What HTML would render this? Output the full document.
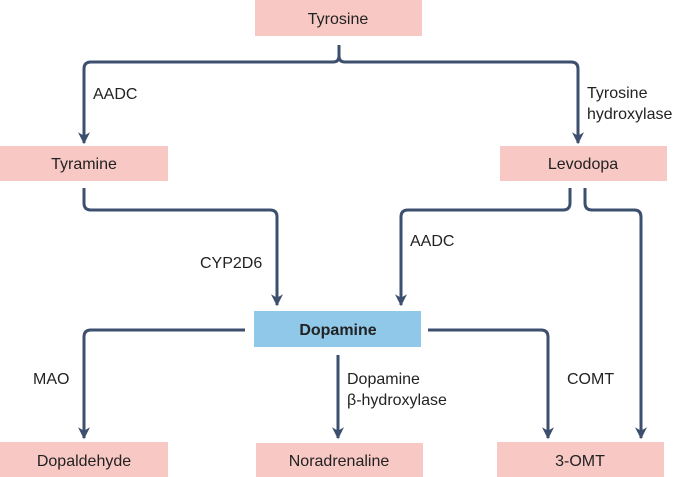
<!DOCTYPE html>
<html><head><meta charset="utf-8"><style>
body{margin:0;width:685px;height:477px;background:#fff;overflow:hidden}
svg{display:block}
text{font-family:"Liberation Sans",sans-serif;font-size:16px;fill:#222}
</style></head><body>
<svg width="685" height="477" viewBox="0 0 685 477">
<defs><marker id="a" viewBox="0 0 10 10" refX="9" refY="5" markerWidth="13" markerHeight="12" markerUnits="userSpaceOnUse" orient="auto"><path d="M0,0 L10,5 L0,10 L3,5 Z" fill="#3d4f6e"/></marker></defs>
<g fill="#f8c8c4">
<rect x="255" y="0" width="167" height="36"/>
<rect x="0" y="146" width="168" height="35"/>
<rect x="500" y="146" width="167" height="35"/>
<rect x="0" y="442" width="168" height="35"/>
<rect x="256" y="443" width="167" height="34"/>
<rect x="497" y="442" width="167" height="35"/>
</g>
<rect x="254" y="311" width="167" height="36" fill="#8fc8e8"/>
<g fill="none" stroke="#3d4f6e" stroke-width="3" stroke-linejoin="round">
<path d="M339,45 V56 Q339,62 333,62 H91 Q84,62 84,69 V143" marker-end="url(#a)"/>
<path d="M339,56 Q339,62 345,62 H571 Q578,62 578,69 V143" marker-end="url(#a)"/>
<path d="M84,188 V203 Q84,210 91,210 H270 Q277,210 277,217 V305" marker-end="url(#a)"/>
<path d="M570,188 V203 Q570,210 563,210 H408 Q401,210 401,217 V305" marker-end="url(#a)"/>
<path d="M585,188 V203 Q585,210 592,210 H634 Q641,210 641,217 V438" marker-end="url(#a)"/>
<path d="M245,330 H91 Q84,330 84,337 V438" marker-end="url(#a)"/>
<path d="M428,330 H541 Q548,330 548,337 V438" marker-end="url(#a)"/>
<path d="M338,355 V438" marker-end="url(#a)"/>
</g>
<g text-anchor="middle">
<text x="338" y="24">Tyrosine</text>
<text x="84" y="169">Tyramine</text>
<text x="583" y="169">Levodopa</text>
<text x="338" y="335" font-weight="bold">Dopamine</text>
<text x="84" y="466">Dopaldehyde</text>
<text x="339" y="466">Noradrenaline</text>
<text x="580" y="466">3-OMT</text>
</g>
<text x="93" y="99">AADC</text>
<text x="587" y="98">Tyrosine</text>
<text x="587" y="119">hydroxylase</text>
<text x="200" y="268">CYP2D6</text>
<text x="410" y="246">AADC</text>
<text x="33" y="384">MAO</text>
<text x="347" y="384">Dopamine</text>
<text x="347" y="405">β-hydroxylase</text>
<text x="567" y="384">COMT</text>
</svg>
</body></html>
